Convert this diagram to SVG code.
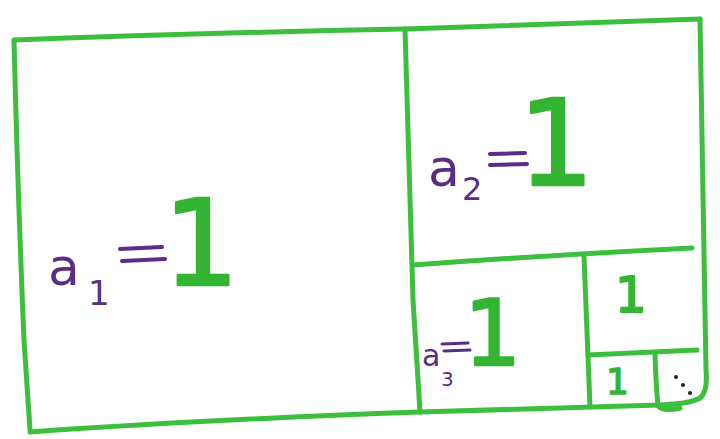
<svg xmlns="http://www.w3.org/2000/svg" width="720" height="439" viewBox="0 0 720 439">
<style>
.ln{fill:none;stroke:#3cbf3c;stroke-width:5;stroke-linecap:round;stroke-linejoin:round}
.one{fill:#33b533;stroke:#33b533;stroke-width:2.5;stroke-linejoin:round;font-family:"DejaVu Sans",sans-serif}
.pu{fill:#5a2d86;font-family:"DejaVu Sans",sans-serif}
.eq{fill:none;stroke:#5a2d86;stroke-width:4;stroke-linecap:round}
.dot{fill:#222}
</style>
<rect width="720" height="439" fill="#ffffff"/>
<g id="frame">
<path class="ln" d="M14,40 Q200,33 405,29 Q560,24 700,19"/>
<path class="ln" d="M14,40 Q18,200 24,340 Q28,400 30,430"/>
<path class="ln" d="M700,19 Q703,200 706,370 Q708,392 700,398"/>
<path class="ln" d="M30,432 Q200,420 420,412 Q560,408 660,405 Q690,404 700,398"/>
<path class="ln" d="M405,29 Q410,200 413,300 Q418,380 420,412"/>
<path class="ln" d="M413,265 Q550,255 692,248"/>
<path class="ln" d="M584,256 Q587,340 590,407"/>
<path class="ln" d="M588,355 Q650,352 697,350"/>
<path class="ln" d="M655,354 Q656,385 658,406 Q664,412 680,408"/>
</g>
<g id="a1">
<text class="pu" x="48" y="285" font-size="52">a</text>
<text class="pu" x="88" y="305" font-size="34">1</text>
<path class="eq" d="M120,249 L162,247 M122,261 L165,259"/>
<text class="one" x="163" y="285" font-size="120">1</text>
</g>
<g id="a2">
<text class="pu" x="428" y="186" font-size="52">a</text>
<text class="pu" x="462" y="200" font-size="32">2</text>
<path class="eq" d="M490,154 L525,153 M490,165 L527,164"/>
<text class="one" x="518" y="185" font-size="120">1</text>
</g>
<g id="a3">
<text class="pu" x="422" y="366" font-size="30">a</text>
<text class="pu" x="441" y="386" font-size="20">3</text>
<path class="eq" d="M442,344 L468,343 M444,351 L470,350" style="stroke-width:3"/>
<text class="one" x="464" y="365" font-size="90">1</text>
</g>
<g id="s1">
<text class="one" x="615" y="312" font-size="50" style="stroke-width:2">1</text>
</g>
<g id="s2">
<text class="one" x="606" y="394" font-size="36" style="stroke-width:1.5">1</text>
</g>
<g id="s3">
<circle class="dot" cx="676" cy="377" r="2"/>
<circle class="dot" cx="683" cy="385" r="2"/>
<circle class="dot" cx="690" cy="393" r="2"/>
</g>
</svg>
